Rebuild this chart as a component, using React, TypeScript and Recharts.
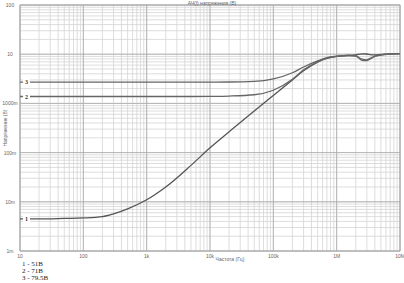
import React from "react";
import { LineChart, Line, XAxis, YAxis, CartesianGrid, ReferenceLine, ReferenceArea } from "recharts";

// frequency points (Hz) and voltage curves (V)
const freqs = [10, 20, 50, 100, 200, 300, 500, 1e3, 2e3, 5e3, 1e4, 2e4, 5e4, 1e5, 2e5, 3e5, 5e5, 7e5, 1e6, 1.5e6, 2e6, 2.5e6, 3e6, 3.5e6, 4e6, 5e6, 7e6, 1e7];
const u1 = [0.0045, 0.0045, 0.0046, 0.0047, 0.005, 0.0057, 0.0072, 0.011, 0.02, 0.055, 0.125, 0.265, 0.7, 1.45, 3.0, 4.6, 6.9, 8.2, 9.0, 9.4, 9.7, 10.2, 10.1, 9.7, 9.7, 9.9, 10.2, 10.3];
const u2 = [1.38, 1.38, 1.38, 1.38, 1.38, 1.38, 1.38, 1.38, 1.38, 1.38, 1.39, 1.41, 1.5, 1.85, 3.1, 4.8, 7.0, 8.3, 9.0, 9.4, 9.2, 7.5, 7.4, 8.2, 9.0, 9.6, 10.1, 10.3];
const u3 = [2.7, 2.7, 2.7, 2.7, 2.7, 2.7, 2.7, 2.7, 2.7, 2.7, 2.71, 2.72, 2.8, 3.15, 4.2, 5.5, 7.3, 8.5, 9.1, 9.5, 9.3, 7.9, 7.7, 8.4, 9.1, 9.7, 10.1, 10.3];

const xDecades = [10, 100, 1e3, 1e4, 1e5, 1e6, 1e7];
const xLabels = ["10", "100", "1k", "10k", "100k", "1M", "10M"];
const yDecades = [0.001, 0.01, 0.1, 1, 10, 100];
const yLabels = ["1m", "10m", "100m", "1000m", "10", "100"];
const legend = ["1 - 51В", "2 - 71В", "3 - 79.5В"];

const data = freqs.map((f, i) => ({ f, u1: u1[i], u2: u2[i], u3: u3[i] }));

function minorTicks(from: number, to: number) {
  const out: number[] = [];
  for (let d = from; d < to; d *= 10) {
    for (let k = 1; k < 10; k++) out.push(+(d * k).toPrecision(6));
  }
  out.push(to);
  return out;
}
const xTicks = minorTicks(10, 1e7);
const yTicks = minorTicks(0.001, 100);

const sans = "'Liberation Sans', Arial, sans-serif";
const serif = "'Liberation Serif', 'Times New Roman', serif";

function XTick({ x, y, payload }: any) {
  const i = xDecades.indexOf(payload.value);
  if (i < 0) return null;
  return (
    <text x={x} y={y - 1} fontSize={5} fill="#666" textAnchor="middle" fontFamily={sans}>
      {xLabels[i]}
    </text>
  );
}

function YTick({ y, payload }: any) {
  const i = yDecades.indexOf(payload.value);
  if (i < 0) return null;
  return (
    <text x={10} y={y + 2} fontSize={5} fill="#666" textAnchor="middle" fontFamily={sans}>
      {yLabels[i]}
    </text>
  );
}

const curveLabel = (n: string) => (props: any) => {
  if (props.index !== 0) return null;
  return (
    <g>
      <rect x={props.x + 3} y={props.y - 4} width={7} height={8} fill="#fff" />
      <text x={props.x + 6.5} y={props.y + 2.2} fontSize={6} fontWeight="bold" fill="#333" textAnchor="middle" fontFamily={serif}>
        {n}
      </text>
    </g>
  );
};

export default function App() {
  return (
    <div style={{ position: "absolute", left: 0, top: 0, width: 404, height: 283, background: "#fff" }}>
      <LineChart width={404} height={283} data={data} margin={{ top: 5, right: 4, left: 0, bottom: 22 }}>
        <CartesianGrid stroke="#d4d4d4" strokeWidth={0.8} />
        {xDecades.map((v) => (
          <ReferenceLine key={"x" + v} x={v} stroke="#aaa" strokeWidth={0.8} />
        ))}
        {yDecades.map((v) => (
          <ReferenceLine key={"y" + v} y={v} stroke="#aaa" strokeWidth={0.8} />
        ))}
        <ReferenceArea x1={10} x2={1e7} y1={0.001} y2={100} fill="none" stroke="#999" strokeWidth={0.8} />
        <XAxis
          dataKey="f"
          type="number"
          scale="log"
          domain={[10, 1e7]}
          ticks={xTicks}
          interval={0}
          tick={<XTick />}
          tickLine={false}
          axisLine={false}
          height={10}
          allowDataOverflow
        />
        <YAxis
          type="number"
          scale="log"
          domain={[0.001, 100]}
          ticks={yTicks}
          interval={0}
          tick={<YTick />}
          tickLine={false}
          axisLine={false}
          width={20}
          allowDataOverflow
        />
        <Line type="monotone" dataKey="u1" stroke="#555" strokeWidth={1.3} dot={false} isAnimationActive={false} label={curveLabel("1")} />
        <Line type="monotone" dataKey="u2" stroke="#666" strokeWidth={1.3} dot={false} isAnimationActive={false} label={curveLabel("2")} />
        <Line type="monotone" dataKey="u3" stroke="#666" strokeWidth={1.3} dot={false} isAnimationActive={false} label={curveLabel("3")} />
      </LineChart>
      <div style={{ position: "absolute", left: 0, top: 0, width: 404, textAlign: "center", fontFamily: sans, fontSize: 5, color: "#666", paddingLeft: 10 }}>
        АЧ(f) напряжения (В)
      </div>
      <div style={{ position: "absolute", left: 180, top: 256, width: 100, textAlign: "center", fontFamily: sans, fontSize: 5, color: "#666" }}>
        Частота (Гц)
      </div>
      <div
        style={{
          position: "absolute",
          left: 5,
          top: 128,
          transform: "translate(-50%, -50%) rotate(-90deg)",
          whiteSpace: "nowrap",
          fontFamily: sans,
          fontSize: 5,
          color: "#666",
        }}
      >
        Напряжение (В)
      </div>
      <div style={{ position: "absolute", left: 22, top: 261, fontFamily: serif, fontSize: 7, lineHeight: "7px", color: "#222" }}>
        {legend.map((l) => (
          <div key={l}>{l}</div>
        ))}
      </div>
    </div>
  );
}
